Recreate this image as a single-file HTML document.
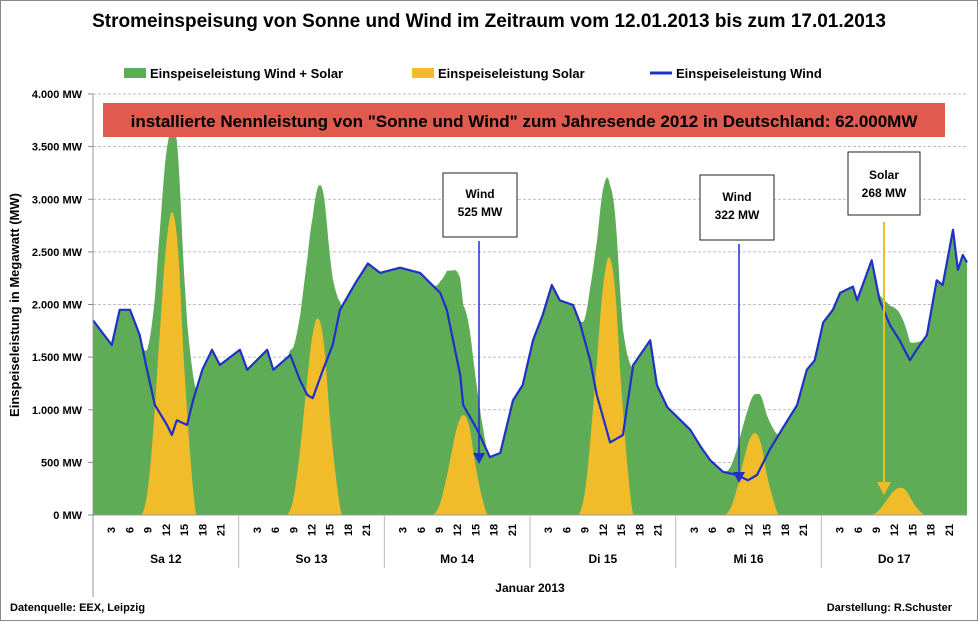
<!DOCTYPE html>
<html><head><meta charset="utf-8"><style>
body{margin:0;background:#fff;}
svg text{font-family:"Liberation Sans",sans-serif;}
</style></head><body>
<svg id="c" width="979" height="622" xmlns="http://www.w3.org/2000/svg">
<rect x="0.5" y="0.5" width="977" height="620" fill="#fff" stroke="#888"/>
<text x="489" y="27" text-anchor="middle" font-size="19" font-weight="bold">Stromeinspeisung von Sonne und Wind im Zeitraum vom 12.01.2013 bis zum 17.01.2013</text>
<g>
<g><rect x="124" y="68" width="22" height="10" fill="#5fac56"/><text x="150" y="78" font-size="13" font-weight="bold">Einspeiseleistung Wind + Solar</text></g>
<g><rect x="412" y="68" width="22" height="10" fill="#f0bc2a"/><text x="438" y="78" font-size="13" font-weight="bold">Einspeiseleistung Solar</text></g>
<g><line x1="650" y1="73" x2="672" y2="73" stroke="#2030c8" stroke-width="3"/><text x="676" y="78" font-size="13" font-weight="bold">Einspeiseleistung Wind</text></g>
</g>
<g id="grid"></g>
<g id="plot"></g>
<rect x="103" y="103" width="842" height="34" fill="#e05a50"/>
<text x="524" y="127" text-anchor="middle" font-size="17" font-weight="bold">installierte Nennleistung von "Sonne und Wind" zum Jahresende 2012 in Deutschland:  62.000MW</text>
<g id="axes"></g>
<g>
<rect x="443" y="173" width="74" height="64" fill="#fff" stroke="#222"/>
<text x="480" y="198" text-anchor="middle" font-size="12" font-weight="bold">Wind</text>
<text x="480" y="216" text-anchor="middle" font-size="12" font-weight="bold">525 MW</text>
<line x1="479" y1="241" x2="479" y2="455" stroke="#2030c8" stroke-width="1.5"/>
<polygon points="473,453 485,453 479,464" fill="#2030c8"/>
</g>
<g>
<rect x="700" y="175" width="74" height="65" fill="#fff" stroke="#222"/>
<text x="737" y="201" text-anchor="middle" font-size="12" font-weight="bold">Wind</text>
<text x="737" y="219" text-anchor="middle" font-size="12" font-weight="bold">322 MW</text>
<line x1="739" y1="244" x2="739" y2="474" stroke="#2030c8" stroke-width="1.5"/>
<polygon points="733,472 745,472 739,483" fill="#2030c8"/>
</g>
<g>
<rect x="848" y="152" width="72" height="63" fill="#fff" stroke="#222"/>
<text x="884" y="179" text-anchor="middle" font-size="12" font-weight="bold">Solar</text>
<text x="884" y="197" text-anchor="middle" font-size="12" font-weight="bold">268 MW</text>
<line x1="884" y1="222" x2="884" y2="485" stroke="#f0bc2a" stroke-width="2"/>
<polygon points="877,482 891,482 884,495" fill="#f0bc2a"/>
</g>
<text x="10" y="611" font-size="11" font-weight="bold">Datenquelle: EEX, Leipzig</text>
<text x="952" y="611" text-anchor="end" font-size="11" font-weight="bold">Darstellung: R.Schuster</text>
</svg>
<script>
const days=["Sa 12","So 13","Mo 14","Di 15","Mi 16","Do 17"];
const yTicks=[0,500,1000,1500,2000,2500,3000,3500,4000];
const yTickLabels=["0 MW","500 MW","1.000 MW","1.500 MW","2.000 MW","2.500 MW","3.000 MW","3.500 MW","4.000 MW"];
const hourLabels=[3,6,9,12,15,18,21];
// wind: hour (since start) and MW
const windHours=[0,3.1,4.4,6.1,7.7,8.9,10.2,12.2,13.0,13.8,15.5,16.5,18.0,19.6,20.9,
24.2,25.4,28.7,29.7,32.5,34.1,35.3,36.2,37.9,39.5,40.7,43.2,45.3,
47.3,50.6,53.9,57.2,58.3,60.5,61.0,63.3,65.4,67.1,69.2,70.8,
72.5,74.1,75.6,76.9,79.1,80.2,81.9,83.0,85.2,87.3,89.0,91.8,92.9,94.6,
98.4,100.1,101.7,103.8,106.1,107.9,109.4,111.5,113.7,116.0,117.6,118.9,
120.3,121.9,123.1,125.2,125.9,128.3,129.6,131.3,132.9,134.6,135.7,137.4,139.0,140.0,141.7,142.5,143.3,144];
const windMW=[1850,1615,1950,1950,1710,1380,1045,855,760,900,855,1090,1380,1570,1425,
1570,1380,1570,1380,1520,1280,1140,1110,1380,1615,1950,2200,2390,
2300,2350,2300,2110,1950,1330,1045,810,550,590,1090,1235,
1660,1900,2185,2040,1995,1830,1470,1140,690,760,1425,1660,1235,1025,
810,650,520,410,380,330,380,620,830,1045,1380,1470,
1830,1950,2110,2170,2040,2420,2040,1805,1660,1470,1570,1710,2230,2185,2710,2330,2470,2400];
// solar: hours 8..17 of each day
const solarHoursOfDay=[8,9,10,11,12,13,14,15,16,17];
const solarDay1=[0,230,860,1730,2530,2880,2530,1440,580,0];
const solarDay2=[0,150,560,1120,1650,1870,1650,940,370,0];
const solarDay3=[0,80,290,570,840,950,840,480,190,0];
const solarDay4=[0,200,750,1450,2150,2450,2150,1250,500,0];
const solarDay5=[0,60,230,470,690,780,690,390,160,0];
const solarDay6=[0,20,80,160,230,260,230,130,50,0];
const solarDays=[solarDay1,solarDay2,solarDay3,solarDay4,solarDay5,solarDay6];

const NS="http://www.w3.org/2000/svg";
const X0=93,X1=967,Y0=515,Y1=94,YMAX=4000,HOURS=144;
const x=h=>X0+(X1-X0)*h/HOURS;
const y=v=>Y0-(Y0-Y1)*v/YMAX;
function mk(tag,attrs,parent,txt){const e=document.createElementNS(NS,tag);for(const k in attrs)e.setAttribute(k,attrs[k]);if(txt!==undefined)e.textContent=txt;parent.appendChild(e);return e;}
function interp(hs,vs,h){if(h<=hs[0])return vs[0];for(let i=1;i<hs.length;i++){if(h<=hs[i]){const t=(h-hs[i-1])/(hs[i]-hs[i-1]);return vs[i-1]+t*(vs[i]-vs[i-1]);}}return vs[vs.length-1];}
function spline(hs,vs,h){ // Catmull-Rom on uniform hours, clamped >= 0
  if(h<=hs[0])return vs[0];if(h>=hs[hs.length-1])return vs[vs.length-1];
  let i=1;while(h>hs[i])i++;
  const t=(h-hs[i-1])/(hs[i]-hs[i-1]);
  const p0=vs[Math.max(i-2,0)],p1=vs[i-1],p2=vs[i],p3=vs[Math.min(i+1,vs.length-1)];
  const v=0.5*((2*p1)+(-p0+p2)*t+(2*p0-5*p1+4*p2-p3)*t*t+(-p0+3*p1-3*p2+p3)*t*t*t);
  return Math.max(0,v);}
function solarAt(h){const d=Math.floor(h/24),hd=h-d*24;if(d<0||d>5)return 0;if(hd<8||hd>17)return 0;return spline(solarHoursOfDay,solarDays[d],hd);}

const grid=document.getElementById('grid'),plot=document.getElementById('plot'),axes=document.getElementById('axes');
yTicks.forEach((v,i)=>{
  if(v>0){const g=mk('line',{x1:X0,x2:X1,y1:y(v),y2:y(v),stroke:'#aaa','stroke-dasharray':'3,2','stroke-width':0.8},grid);
  
  }
  const t=mk('text',{x:82,y:y(v)+4,'text-anchor':'end','font-size':11,'font-weight':'bold'},axes,yTickLabels[i]);
  
  
  const tk=mk('line',{x1:88,x2:X0,y1:y(v),y2:y(v),stroke:'#888'},axes);
  
  
});
const samples=[];for(let h=0;h<=HOURS;h+=0.25)samples.push(h);
windHours.forEach(h=>samples.push(h));samples.sort((a,b)=>a-b);
let totalD='M'+x(0)+','+Y0;samples.forEach(h=>{totalD+=' L'+x(h).toFixed(1)+','+y(interp(windHours,windMW,h)+solarAt(h)).toFixed(1);});totalD+=' L'+x(HOURS)+','+Y0+' Z';
const ta=mk('path',{d:totalD,fill:'#5fac56'},plot);


solarDays.forEach((arr,d)=>{
  let p='M'+x(d*24+8)+','+Y0;
  for(let h=8;h<=17;h+=0.2)p+=' L'+x(d*24+h).toFixed(1)+','+y(spline(solarHoursOfDay,arr,h)).toFixed(1);
  p+=' L'+x(d*24+17)+','+Y0+' Z';
  const s=mk('path',{d:p,fill:'#f0bc2a'},plot);
  
  
});
let wd='';windHours.forEach((h,i)=>{wd+=(i?' L':'M')+x(h).toFixed(1)+','+y(windMW[i]).toFixed(1);});
const wl=mk('path',{d:wd,fill:'none',stroke:'#2030c8','stroke-width':2.2,'stroke-linejoin':'round'},plot);


const ya=mk('line',{x1:X0,x2:X0,y1:Y1,y2:597,stroke:'#999'},axes);


const xa=mk('line',{x1:X0,x2:X1,y1:Y0,y2:Y0,stroke:'#999'},axes);


days.forEach((dn,d)=>{
  if(d>0){const s=mk('line',{x1:x(d*24),x2:x(d*24),y1:Y0,y2:568,stroke:'#bbb'},axes);
  
  }
  hourLabels.forEach(h=>{
    const xx=x(d*24+h),yy=530;
    const t=mk('text',{x:xx+4,y:yy,'text-anchor':'middle','font-size':11,'font-weight':'bold',transform:`rotate(-90 ${xx+4} ${yy})`},axes,String(h));
    
    
  });
  const dl=mk('text',{x:x(d*24+12),y:563,'text-anchor':'middle','font-size':12,'font-weight':'bold'},axes,dn);
  
  
});
const xt=mk('text',{x:530,y:592,'text-anchor':'middle','font-size':12,'font-weight':'bold'},axes,'Januar 2013');


const yt=mk('text',{x:19,y:305,'text-anchor':'middle','font-size':13,'font-weight':'bold',transform:'rotate(-90 19 305)'},axes,'Einspeiseleistung in Megawatt (MW)');


</script>
</body></html>
